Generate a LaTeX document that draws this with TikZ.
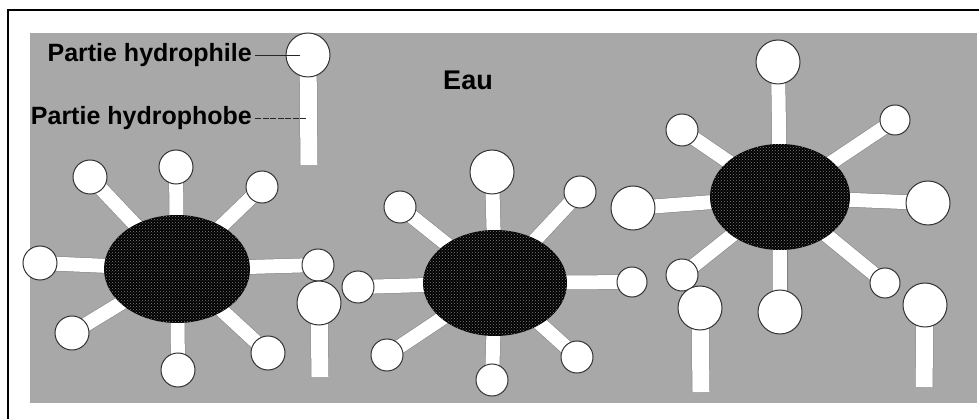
\documentclass[tikz,border=0pt]{standalone}
\usepackage{fontspec}
\setmainfont{Liberation Sans}
\usetikzlibrary{shapes.geometric,patterns}
\begin{document}
\begin{tikzpicture}[x=1pt,y=-1pt,
  head/.style={circle,draw=black!80,line width=1pt,fill=white,inner sep=0pt,minimum size=#1},
  tail/.style={draw=black!50,line width=0.5pt,double=white,double distance=#1},
  tail/.default=14pt,
  core/.style={ellipse,fill=black,inner sep=0pt,
    postaction={pattern=crosshatch dots,pattern color=black!50}},
  lbl/.style={font=\bfseries\fontsize{25}{28}\selectfont,inner sep=0pt},
  leader/.style={draw=black!85,line width=0.8pt}]
\useasboundingbox (0,0) rectangle (979,419);
% water
\fill[black!34] (30,33) rectangle (977,403);
% frame
\draw[line width=1.5pt] (8,419) -- (8,10) -- (979,10);
\node[lbl,font=\bfseries\fontsize{27}{30}\selectfont] (eau) at (468,80) {Eau};

% one micelle: name, centre, core size, list of heads (x/y/diameter)
\foreach \m/\cx/\cy/\w/\h/\heads in {
  m1/177/269/146/108/{176/167/34,90/177/34,262/187/32,40/263/34,318/265/32,72/333/34,178/370/34,268/353/34},
  m2/495/283/144/106/{492/172/44,400/207/32,580/192/32,358/287/32,632/282/30,387/355/32,492/380/32,577/357/32},
  m3/780/197/140/106/{778/62/44,682/130/32,895/120/30,633/208/44,928/203/44,682/275/32,780/312/44,885/283/30}}
{
  \coordinate (\m c) at (\cx,\cy);
  \foreach \x/\y/\s [count=\i] in \heads {
    \coordinate (\m p\i) at (\x,\y);
    \draw[tail] (\m c) -- (\m p\i);
  }
  \node[core,minimum width=\w pt,minimum height=\h pt] (\m core) at (\m c) {};
  \foreach \x/\y/\s [count=\i] in \heads {
    \node[head=\s pt] (\m h\i) at (\x,\y) {};
  }
}

% single molecules: head and hydrophobic tail
\foreach \n/\hx/\hy/\tx/\ty in {lg/308/55/309/165, f1/319/303/320/377, f2/700/308/701/392, f3/925/305/924/387} {
  \coordinate (\n end) at (\tx,\ty);
  \coordinate (\n top) at (\hx,\hy);
  \draw[tail=17pt] (\n top) -- (\n end);
  \node[head=44pt] (\n h) at (\n top) {};
}

% legend
\node[lbl,anchor=east] (lphil) at (252,55) {Partie hydrophile};
\node[lbl,anchor=east] (lphob) at (252,118) {Partie hydrophobe};
\coordinate (tailpt) at (306,118);
\draw[leader] ([xshift=3pt]lphil.east) -- ([xshift=-8pt]lgh.center);
\draw[leader,dash pattern=on 6pt off 1.5pt] ([xshift=3pt]lphob.east) -- (tailpt);
\end{tikzpicture}
\end{document}
